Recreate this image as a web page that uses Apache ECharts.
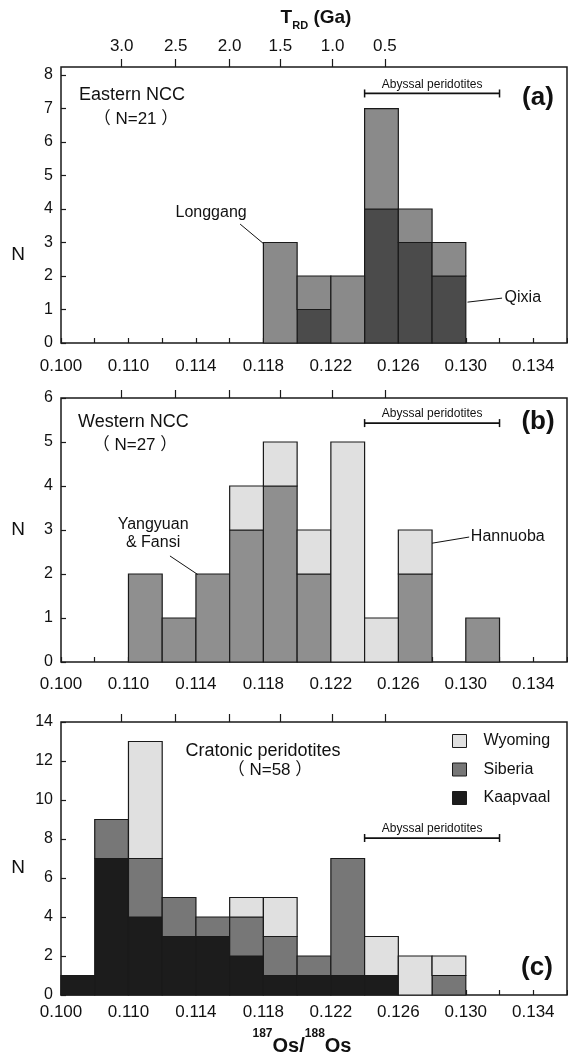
<!DOCTYPE html>
<html><head><meta charset="utf-8">
<script src="https://cdn.jsdelivr.net/npm/echarts@6/dist/echarts.min.js"></script>
<style>html,body{margin:0;padding:0;background:#fff}#c{width:568px;height:1061px}</style>
</head><body><div id="c"></div>
<script>
// ---- data ----
const binStarts = [0.106,0.108,0.110,0.112,0.114,0.116,0.118,0.120,0.122,0.124,0.126,0.128,0.130,0.132,0.134];
const binWidth = 0.002;
// (a) Eastern NCC
const eastQixia    = [0,0,0,0,0,0,0,1,0,4,3,2,0,0,0];
const eastLonggang = [0,0,0,0,0,0,3,1,2,3,1,1,0,0,0];
// (b) Western NCC
const westYangyuan = [0,0,2,1,2,3,4,2,0,0,2,0,1,0,0];
const westHannuoba = [0,0,0,0,0,1,1,1,5,1,1,0,0,0,0];
// (c) Cratonic peridotites
const kaapvaal = [1,7,4,3,3,2,1,1,1,1,0,0,0,0,0];
const siberia  = [0,2,3,2,1,2,2,1,6,0,0,1,0,0,0];
const wyoming  = [0,0,6,0,0,1,2,0,0,2,2,1,0,0,0];
// axes
const xTickValues = [0.106,0.110,0.114,0.118,0.122,0.126,0.130,0.134];
const xTickLabels = ['0.100','0.110','0.114','0.118','0.122','0.126','0.130','0.134'];
const trdValues = [0.1096,0.1128,0.1160,0.1190,0.1221,0.1252];
const trdLabels = ['3.0','2.5','2.0','1.5','1.0','0.5'];
const abyssalRange = [0.124, 0.132];
const abyssalY = [7.45, 5.43, 8.05];

const FONT = '"Liberation Sans","Noto Sans CJK SC",Arial,sans-serif';
const INK = '#111';

function layerData(values, lowers){
  const out = [];
  values.forEach((v,i)=>{
    if(v>0){
      let base = 0; lowers.forEach(l=>{ base += l[i]; });
      out.push([binStarts[i], binStarts[i]+binWidth, base, base+v]);
    }
  });
  return out;
}
function barSeries(name, idx, values, lowers, color){
  return {
    type:'custom', name, xAxisIndex:idx, yAxisIndex:idx,
    dimensions:['x0','x1','y0','y1'], encode:{x:[0,1], y:[2,3]},
    itemStyle:{color, borderColor:'#1a1a1a', borderWidth:1},
    data: layerData(values, lowers),
    renderItem(params, api){
      const a = api.coord([api.value(0), api.value(3)]);
      const b = api.coord([api.value(1), api.value(2)]);
      return {type:'rect', shape:{x:a[0], y:a[1], width:b[0]-a[0], height:b[1]-a[1]},
        style:{fill:color, stroke:'#1a1a1a', lineWidth:1.2}};
    }
  };
}
function annSeries(idx, leaders){
  return {
    type:'custom', xAxisIndex:idx, yAxisIndex:idx, silent:true, data:[[0.12,1]],
    renderItem(params, api){
      const ch = [];
      const y = abyssalY[idx];
      const p0 = api.coord([abyssalRange[0], y]);
      const p1 = api.coord([abyssalRange[1], y]);
      ch.push({type:'line', shape:{x1:p0[0], y1:p0[1], x2:p1[0], y2:p1[1]}, style:{stroke:'#111', lineWidth:1.8}});
      [p0,p1].forEach(p=>ch.push({type:'line', shape:{x1:p[0], y1:p[1]-4, x2:p[0], y2:p[1]+4}, style:{stroke:'#111', lineWidth:1.5}}));
      ch.push({type:'text', x:(p0[0]+p1[0])/2, y:p0[1]-9, style:{text:'Abyssal peridotites', fontSize:12, fontFamily:FONT, fill:INK, align:'center', verticalAlign:'middle'}});
      leaders.forEach(L=>{
        const f = api.coord(L.from), t = api.coord(L.to), tp = api.coord(L.at);
        ch.push({type:'line', shape:{x1:f[0], y1:f[1], x2:t[0], y2:t[1]}, style:{stroke:'#111', lineWidth:1}});
        ch.push({type:'text', x:tp[0], y:tp[1], style:{text:L.text, fontSize:16, lineHeight:18, fontFamily:FONT, fill:INK, align:L.align, verticalAlign:'middle'}});
      });
      return {type:'group', children:ch};
    }
  };
}
const leadersA = [
  {text:'Longgang', at:[0.1149,3.88], align:'center', from:[0.11662,3.55], to:[0.1180,2.97]},
  {text:'Qixia', at:[0.1323,1.37], align:'left', from:[0.1301,1.22], to:[0.13215,1.34]}
];
const leadersB = [
  {text:'Yangyuan\n& Fansi', at:[0.11146,2.91], align:'center', from:[0.11246,2.41], to:[0.1141,1.99]},
  {text:'Hannuoba', at:[0.1303,2.84], align:'left', from:[0.1280,2.70], to:[0.1302,2.84]}
];

const grids = [
  {left:61, top:67, width:506, height:276},
  {left:61, top:398, width:506, height:264},
  {left:61, top:722, width:506, height:273}
].map(g=>Object.assign(g,{show:true, borderColor:'#1a1a1a', borderWidth:1.5, containLabel:false}));

const yMax = [8.24, 6, 14], yInt = [1,1,2], xMargin=[15,14,9];
const xAxes = [], yAxes = [];
[0,1,2].forEach(i=>{
  xAxes.push({type:'value', gridIndex:i, position:'bottom', min:0.106, max:0.136, interval:0.002,
    axisLine:{show:false}, splitLine:{show:false},
    axisTick:{show:true, inside:true, length:5, lineStyle:{color:'#1a1a1a', width:1.2}},
    axisLabel:{customValues:xTickValues, fontSize:17, fontFamily:FONT, color:INK, margin:xMargin[i],
      formatter:(v)=>{ const k = xTickValues.findIndex(t=>Math.abs(t-v)<1e-6); return k>=0 ? xTickLabels[k] : ''; }}
  });
});
[0,1,2].forEach(i=>{
  xAxes.push({type:'value', gridIndex:i, position:'top', min:0.106, max:0.136,
    axisLine:{show:false}, splitLine:{show:false},
    axisTick:{show:true, inside:false, length:8, customValues:trdValues, lineStyle:{color:'#1a1a1a', width:1.2}},
    axisLabel:{show:i===0, customValues:trdValues, fontSize:17, fontFamily:FONT, color:INK, margin:12,
      formatter:(v)=>{ const k = trdValues.findIndex(t=>Math.abs(t-v)<1e-6); return k>=0 ? trdLabels[k] : ''; }}
  });
  yAxes.push({type:'value', gridIndex:i, min:0, max:yMax[i], interval:yInt[i],
    axisLine:{show:false}, splitLine:{show:false},
    axisTick:{show:true, inside:true, length:5, lineStyle:{color:'#1a1a1a', width:1.2}},
    axisLabel:{fontSize:16, fontFamily:FONT, color:INK, margin:8}
  });
});

const series = [
  barSeries('Qixia',0,eastQixia,[], '#4b4b4b'),
  barSeries('Longgang',0,eastLonggang,[eastQixia], '#8a8a8a'),
  barSeries('Yangyuan & Fansi',1,westYangyuan,[], '#8f8f8f'),
  barSeries('Hannuoba',1,westHannuoba,[westYangyuan], '#e0e0e0'),
  barSeries('Kaapvaal',2,kaapvaal,[], '#1c1c1c'),
  barSeries('Siberia',2,siberia,[kaapvaal], '#777777'),
  barSeries('Wyoming',2,wyoming,[kaapvaal,siberia], '#e0e0e0'),
  annSeries(0, leadersA), annSeries(1, leadersB), annSeries(2, [])
];

function txt(x,y,text,size,opts){
  return Object.assign({type:'text', x, y, silent:true, style:Object.assign({text, fontSize:size, fontFamily:FONT, fill:INK, align:'left', verticalAlign:'middle'}, opts||{})});
}
const graphic = [
  txt(316,18,'{b|T}{s|RD}{b| (Ga)}',18,{align:'center', rich:{
    b:{fontSize:19, fontWeight:'bold', fontFamily:FONT, fill:INK, lineHeight:26, verticalAlign:'middle'},
    s:{fontSize:11, fontWeight:'bold', fontFamily:FONT, fill:INK, lineHeight:26, verticalAlign:'bottom'}}}),
  txt(79,95,'Eastern NCC',18),
  txt(136,119,'（ N=21 ）',17,{align:'center'}),
  txt(538,98,'(a)',26,{align:'center', fontWeight:'bold'}),
  txt(78,422,'Western NCC',18),
  txt(135,445,'（ N=27 ）',17,{align:'center'}),
  txt(538,422,'(b)',26,{align:'center', fontWeight:'bold'}),
  txt(263,751,'Cratonic peridotites',18,{align:'center'}),
  txt(270,770,'（ N=58 ）',17,{align:'center'}),
  txt(537,968,'(c)',26,{align:'center', fontWeight:'bold'}),
  txt(18,255,'N',19,{align:'center'}),
  txt(18,530,'N',19,{align:'center'}),
  txt(18,868,'N',19,{align:'center'}),
  txt(302,1042,'{p|187}{b|Os/}{p|188}{b|Os}',18,{align:'center', rich:{
    b:{fontSize:20, fontWeight:'bold', fontFamily:FONT, fill:INK, lineHeight:28, verticalAlign:'bottom'},
    p:{fontSize:12, fontWeight:'bold', fontFamily:FONT, fill:INK, lineHeight:28, verticalAlign:'top'}}})
];

const chart = echarts.init(document.getElementById('c'), null, {renderer:'canvas'});
chart.setOption({
  animation:false,
  backgroundColor:'#fff',
  grid:grids, xAxis:xAxes, yAxis:yAxes, series, graphic,
  legend:{data:['Wyoming','Siberia','Kaapvaal'], orient:'vertical', left:452, top:733, padding:0,
    itemWidth:14, itemHeight:13, itemGap:12.5, icon:'rect',
    itemStyle:{borderColor:'#1a1a1a', borderWidth:1},
    textStyle:{fontSize:16, fontFamily:FONT, color:INK, padding:[0,0,0,12]}}
});
</script></body></html>
